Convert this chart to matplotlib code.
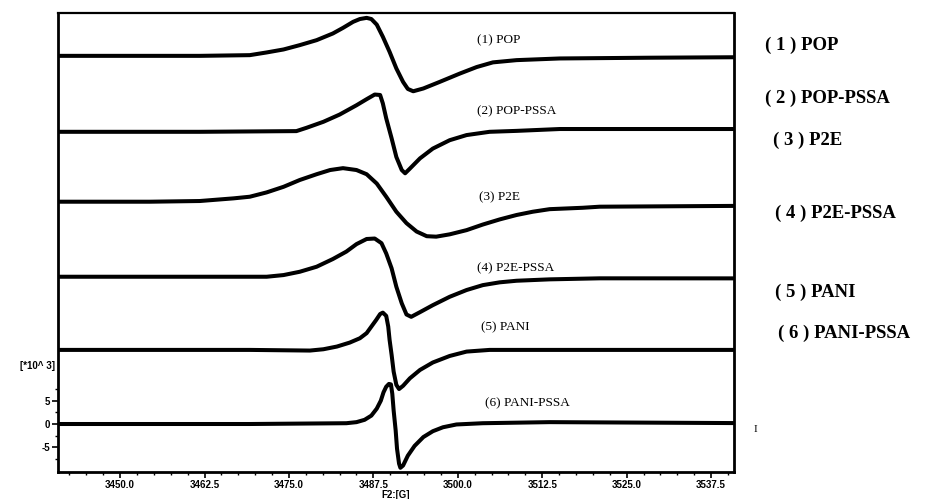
import numpy as np
import matplotlib
matplotlib.use('Agg')
import matplotlib.pyplot as plt
from matplotlib.ticker import MultipleLocator, FixedLocator

# field (G) and signal (*10^3), one list per sample
field_pop = [3440.8, 3461.8, 3469.2, 3471.7, 3474.2, 3476.6, 3479.1, 3481.5, 3483.0, 3484.5,
             3485.5, 3486.5, 3487.2, 3488.0, 3488.9, 3489.9, 3490.9, 3491.9, 3492.6, 3493.4,
             3494.9, 3497.3, 3500.3, 3502.8, 3505.2, 3508.7, 3515.1, 3528.4, 3540.8]
sig_pop = [0.0, 0.0, 0.15, 0.73, 1.37, 2.3, 3.37, 4.8, 6.0, 7.3,
           7.9, 8.15, 7.9, 6.7, 4.1, 0.86, -2.7, -5.6, -7.1, -7.6,
           -7.0, -5.6, -3.8, -2.4, -1.4, -0.92, -0.56, -0.4, -0.3]

field_pop_pssa = [3440.8, 3461.8, 3476.1, 3477.6, 3480.1, 3482.5, 3485.0, 3486.5, 3487.7, 3488.5,
                  3488.9, 3489.4, 3490.2, 3490.9, 3491.7, 3492.2, 3492.9, 3494.4, 3496.3, 3498.8,
                  3501.3, 3504.7, 3508.7, 3515.1, 3540.8]
sig_pop_pssa = [0.0, 0.0, 0.15, 0.86, 2.15, 3.7, 5.7, 7.0, 8.0, 7.9,
                6.1, 2.9, -1.4, -5.4, -8.2, -8.9, -7.9, -5.7, -3.6, -1.8,
                -0.7, 0.0, 0.2, 0.6, 0.6]

field_p2e = [3440.8, 3454.4, 3461.8, 3466.8, 3469.2, 3471.7, 3474.2, 3476.6, 3479.1, 3481.1,
             3483.0, 3485.0, 3486.5, 3488.0, 3489.4, 3490.9, 3492.4, 3493.9, 3495.4, 3496.8,
             3498.8, 3501.3, 3503.7, 3506.2, 3508.7, 3511.1, 3513.6, 3518.5, 3521.0, 3540.8]
sig_p2e = [0.0, 0.0, 0.15, 0.72, 1.07, 2.0, 3.2, 4.66, 5.9, 6.8,
           7.2, 6.8, 5.9, 3.9, 1.07, -2.15, -4.6, -6.4, -7.4, -7.5,
           -7.0, -6.1, -4.9, -3.8, -2.85, -2.15, -1.6, -1.3, -1.07, -0.9]

field_p2e_pssa = [3440.8, 3461.8, 3471.7, 3474.2, 3476.6, 3479.1, 3481.5, 3483.5, 3485.0, 3486.5,
                  3487.7, 3488.7, 3489.4, 3490.2, 3490.9, 3491.7, 3492.4, 3493.1, 3494.4, 3496.3,
                  3498.8, 3501.3, 3503.7, 3506.2, 3508.7, 3513.6, 3521.0, 3540.8]
sig_p2e_pssa = [0.0, 0.0, 0.0, 0.36, 1.07, 2.15, 3.8, 5.4, 7.0, 8.1,
                8.2, 7.2, 5.0, 1.8, -2.15, -5.7, -8.1, -8.6, -7.6, -6.1,
                -4.3, -2.85, -1.8, -1.2, -0.86, -0.56, -0.34, -0.35]

field_pani = [3440.8, 3469.2, 3478.1, 3480.1, 3482.1, 3484.0, 3485.5, 3486.5, 3487.2, 3487.9,
              3488.5, 3488.9, 3489.4, 3489.7, 3489.9, 3490.2, 3490.5, 3490.9, 3491.3, 3491.9,
              3492.9, 3494.4, 3496.3, 3498.8, 3501.3, 3504.7, 3513.6, 3540.8]
sig_pani = [0.0, 0.0, -0.14, 0.14, 0.72, 1.57, 2.5, 3.6, 5.0, 6.4,
            7.7, 8.0, 7.3, 5.0, 2.15, -1.07, -4.66, -7.5, -8.4, -7.7,
            -6.1, -4.3, -2.7, -1.3, -0.36, 0.0, 0.0, 0.0]

field_pani_pssa = [3440.8, 3469.2, 3483.5, 3485.0, 3486.2, 3487.2, 3488.0, 3488.6, 3489.0, 3489.4,
                   3489.8, 3490.1, 3490.3, 3490.5, 3490.8, 3491.0, 3491.3, 3491.5, 3491.9, 3492.6,
                   3493.6, 3494.9, 3496.3, 3497.8, 3499.8, 3503.7, 3513.6, 3540.8]
sig_pani_pssa = [0.0, 0.0, 0.17, 0.4, 0.9, 1.8, 3.3, 5.0, 6.8, 8.0,
                 8.6, 8.5, 6.5, 2.9, -1.4, -5.3, -8.5, -9.4, -8.9, -6.8,
                 -4.7, -2.8, -1.55, -0.7, -0.1, 0.17, 0.4, 0.2]

# vertical stacking of the six traces (*10^3)
offsets = [79.0, 62.7, 47.7, 31.6, 15.9, 0.0]

inner_labels = ['(1) POP', '(2) POP-PSSA', '(3) P2E', '(4) P2E-PSSA', '(5) PANI', '(6) PANI-PSSA']
inner_label_y = [82.4, 67.0, 48.7, 33.5, 20.8, 4.5]
side_labels = ['( 1 ) POP', '( 2 ) POP-PSSA', '( 3 ) P2E', '( 4 ) P2E-PSSA', '( 5 ) PANI', '( 6 ) PANI-PSSA']

x_ticks = [3450.0, 3462.5, 3475.0, 3487.5, 3500.0, 3512.5, 3525.0, 3537.5]
y_ticks = [-5, 0, 5]
y_minor = [-7.5, -2.5, 2.5, 7.5]


def main():
    fig = plt.figure(figsize=(9.32, 4.99), dpi=100)
    ax = fig.add_axes([0.0622, 0.0541, 0.7254, 0.9199])

    fields = [field_pop, field_pop_pssa, field_p2e, field_p2e_pssa, field_pani, field_pani_pssa]
    sigs = [sig_pop, sig_pop_pssa, sig_p2e, sig_p2e_pssa, sig_pani, sig_pani_pssa]
    for f, s, off in zip(fields, sigs, offsets):
        ax.plot(f, np.array(s) + off, color='black', lw=2.9,
                solid_joinstyle='round', solid_capstyle='round')

    inner_x = [3502.8, 3502.8, 3503.2, 3502.9, 3503.5, 3504.0]
    for lab, xx, yy in zip(inner_labels, inner_x, inner_label_y):
        ax.text(xx, yy, lab, fontsize=9.5, family='Liberation Serif', va='center', ha='left')

    ax.set_xlim(3440.8, 3540.9)
    ax.set_ylim(-10.3, 88.2)
    ax.xaxis.set_major_locator(FixedLocator(x_ticks))
    ax.xaxis.set_minor_locator(MultipleLocator(2.5))
    ax.set_xticklabels([f'{t:.1f}' for t in x_ticks])
    ax.yaxis.set_major_locator(FixedLocator(y_ticks))
    ax.yaxis.set_minor_locator(FixedLocator(y_minor))
    ax.set_yticklabels([str(t) for t in y_ticks])
    ax.tick_params(which='major', direction='out', length=4, width=1.2, pad=1.5,
                   labelsize=7)
    ax.tick_params(which='minor', direction='out', length=2.5, width=1.0)
    for lab in ax.get_xticklabels() + ax.get_yticklabels():
        lab.set_family('Liberation Sans')
        lab.set_fontweight('bold')
    for sp in ax.spines.values():
        sp.set_linewidth(2.0)
    ax.spines['top'].set_linewidth(1.6)

    ax.set_xlabel('F2:[G]', fontsize=7, family='Liberation Sans', fontweight='bold', labelpad=0)
    ax.text(-0.004, 0.231, '[*10^ 3]', transform=ax.transAxes, ha='right', va='center',
            fontsize=7, family='Liberation Sans', fontweight='bold')

    side_x = [765, 765, 773, 775, 775, 778]
    side_y = [45, 98, 140, 213, 292, 333]
    for lab, px, py in zip(side_labels, side_x, side_y):
        fig.text(px / 932, 1 - py / 499, lab, fontsize=13.5, family='Liberation Serif',
                 fontweight='bold', va='center', ha='left')
    fig.text(754 / 932, 1 - 429 / 499, 'I', fontsize=8, family='Liberation Serif',
             va='center', ha='left')

    fig.savefig('out.png', dpi=100)


if __name__ == '__main__':
    main()
